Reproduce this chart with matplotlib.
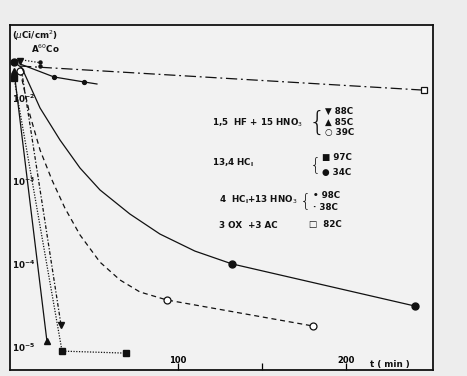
import numpy as np
import matplotlib
matplotlib.use("Agg")
import matplotlib.pyplot as plt
from matplotlib.transforms import blended_transform_factory

# time (min) and activity of 60Co (uCi/cm2)
# 1,5 HF + 15 HNO3
t_88 = [6.0, 30.4]
a_88 = [2.9e-2, 1.88e-5]
t_85 = [2.4, 22.0]
a_85 = [2.2e-2, 1.2e-5]
t_39 = [6.0, 93.5, 180.4]
a_39 = [2.2e-2, 3.77e-5, 1.83e-5]
t_39_fit = [6.0, 11.9, 17.9, 25.0, 32.7, 41.7, 53.6, 65.5, 77.4, 93.5, 180.4]
a_39_fit = [2.2e-2, 6.45e-3, 2.44e-3, 1.06e-3, 4.86e-4, 2.3e-4, 1.08e-4, 6.58e-5, 4.71e-5, 3.77e-5, 1.83e-5]

# 13,4 HCl
t_97 = [2.4, 31.0, 69.0]
a_97 = [1.81e-2, 9.1e-6, 8.6e-6]
t_34 = [2.4, 132.1, 241.1]
a_34 = [2.82e-2, 1.03e-4, 3.19e-5]
t_34_fit = [2.4, 7.1, 17.9, 29.8, 41.7, 53.6, 71.4, 89.3, 110.1, 132.1, 241.1]
a_34_fit = [2.82e-2, 2.39e-2, 7.85e-3, 3.22e-3, 1.48e-3, 8.04e-4, 4.12e-4, 2.36e-4, 1.47e-4, 1.03e-4, 3.19e-5]

# 4 HCl + 13 HNO3
t_98 = [26.2, 44.0]
a_98 = [1.86e-2, 1.62e-2]
t_98_fit = [6.0, 26.2, 44.0, 51.8]
a_98_fit = [2.67e-2, 1.86e-2, 1.62e-2, 1.53e-2]
t_38 = [17.9, 17.9]
a_38 = [2.82e-2, 2.52e-2]
t_38_fit = [7.1, 19.0]
a_38_fit = [2.99e-2, 2.74e-2]

# 3 OX + 3 AC
t_82 = [6.0, 246.4]
a_82 = [2.52e-2, 1.29e-2]

x_ticks = [100, 150, 200]
x_tick_labels = ["100", "", "200"]
y_ticks = [1e-2, 1e-3, 1e-4, 1e-5]
y_tick_labels = [r"$\mathbf{10^{-2}}$", r"$\mathbf{10^{-3}}$", r"$\mathbf{10^{-4}}$", r"$\mathbf{10^{-5}}$"]

W, H = 467, 376
fig = plt.figure(figsize=(W / 100, H / 100), dpi=100, facecolor="#ededed")
ax = fig.add_axes([10 / W, 1 - 370 / H, 423 / W, 345 / H], facecolor="#f2f2f2")

k = "#111111"
lw = 0.9

# steep curves
ax.plot(t_88, a_88, color=k, lw=lw, ls=(0, (3, 1.5, 1, 1.5)))
ax.plot(t_88, a_88, ls="none", marker="v", color=k, ms=4)
ax.plot(t_85, a_85, color=k, lw=lw, marker="^", ms=4)
ax.plot(t_97, a_97, color=k, lw=lw, ls=(0, (1, 1.2)))
ax.plot(t_97, a_97, ls="none", marker="s", color=k, ms=4)

# slow curves
ax.plot(t_39_fit, a_39_fit, color=k, lw=lw, ls=(0, (4, 3)))
ax.plot(t_39, a_39, ls="none", marker="o", mfc="white", mec=k, mew=0.9, ms=5)
ax.plot(t_34_fit, a_34_fit, color=k, lw=lw)
ax.plot(t_34, a_34, ls="none", marker="o", color=k, ms=5)
ax.plot(t_98_fit, a_98_fit, color=k, lw=lw)
ax.plot(t_98, a_98, ls="none", marker="o", color=k, ms=2.8)
ax.plot(t_38_fit, a_38_fit, color=k, lw=lw, ls=(0, (1, 1.5)))
ax.plot(t_38, a_38, ls="none", marker="o", color=k, ms=2.2)
ax.plot(t_82, a_82, color=k, lw=lw, ls=(0, (9, 3, 1.5, 3)))
ax.plot(t_82[-1:], a_82[-1:], ls="none", marker="s", mfc="white", mec=k, mew=0.9, ms=4.5)

ax.set_yscale("log")
ax.set_xlim(0, 252)
ax.set_ylim(5.38e-6, 7.89e-2)
ax.minorticks_off()
ax.set_xticks(x_ticks, x_tick_labels)
ax.set_yticks(y_ticks, [""] * len(y_ticks))
ax.tick_params(axis="x", direction="in", length=5, width=0.9, pad=-10, labelsize=6)
ax.tick_params(axis="y", direction="in", length=0)
for lab in ax.get_xticklabels():
    lab.set_fontweight("bold")
for s in ax.spines.values():
    s.set_linewidth(1.3)
    s.set_color(k)

# y labels sit inside the frame, as in the scan
ytr = blended_transform_factory(ax.transAxes, ax.transData)
for yv, lab in zip(y_ticks, y_tick_labels):
    ax.text(0.004, yv, lab, transform=ytr, fontsize=6.3, color=k, va="center", ha="left")


def pos(px, py):
    return (px - 10) / 423, (370 - py) / 345


txt = dict(transform=ax.transAxes, fontsize=6.3, fontweight="bold", color=k, va="center")
ax.text(*pos(12, 36), r"($\mu$Ci/cm$^2$)", **txt)
ax.text(*pos(31, 49), r"A$^{60}$Co", **txt)
ax.text(*pos(370, 365), "t ( min )", **txt)

ax.text(*pos(212, 123), r"1,5  HF + 15 HNO$_3$", **txt)
ax.text(*pos(212, 163), r"13,4 HC$_\mathregular{l}$", **txt)
ax.text(*pos(219, 200), r"4  HC$_\mathregular{l}$+13 HNO$_3$", **txt)
ax.text(*pos(219, 225), "3 OX  +3 AC", **txt)

brace = dict(transform=ax.transAxes, color=k, va="center", ha="center", fontweight="light")
ax.text(*pos(317, 122), "{", fontsize=19, **brace)
ax.text(*pos(316, 165), "{", fontsize=13, **brace)
ax.text(*pos(306, 201), "{", fontsize=13, **brace)

ax.text(*pos(325, 111), "▼ 88C", **txt)
ax.text(*pos(325, 122), "▲ 85C", **txt)
ax.text(*pos(325, 133), "○ 39C", **txt)
ax.text(*pos(322, 158), "■ 97C", **txt)
ax.text(*pos(322, 172), "● 34C", **txt)
ax.text(*pos(313, 195), "• 98C", **txt)
ax.text(*pos(313, 207), "· 38C", **txt)
ax.text(*pos(309, 224), "□  82C", **txt)

fig.savefig("out.png", dpi=100, facecolor=fig.get_facecolor())
